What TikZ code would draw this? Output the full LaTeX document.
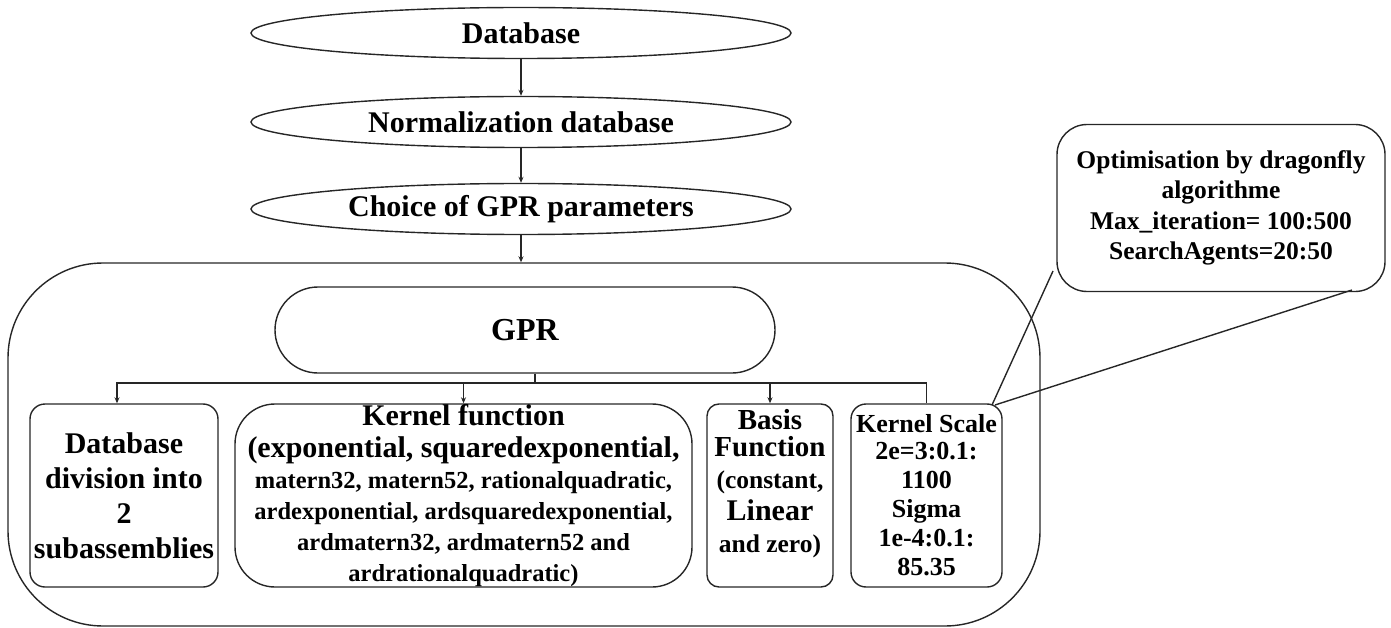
\documentclass[tikz,border=0pt]{standalone}
\usepackage{fontspec}
\setmainfont{Liberation Serif}
\usetikzlibrary{shapes.geometric,arrows.meta}
\begin{document}
\begin{tikzpicture}[x=1pt,y=-1pt,
  line/.style={line width=1.4pt,draw=black!85},
  arr/.style={line,-{Stealth[length=6pt,width=5pt]}},
  ell/.style={line,ellipse,minimum width=540pt,minimum height=51pt,inner sep=0pt,font=\bfseries\fontsize{30}{34}\selectfont},
  rbox/.style={line,rectangle,inner sep=0pt,align=center},
]
\useasboundingbox (0,0) rectangle (1391,628);
% ellipses
\node[ell] (db) at (521,33) {Database};
\node[ell] (norm) at (521,122) {Normalization database};
\node[ell] (choice) at (521,209) {Choice of GPR parameters};
% big container
\node[rbox,rounded corners=95pt,minimum width=1032pt,minimum height=363pt] (big) at (524,444.5) {};
% GPR
\node[rbox,rounded corners=43pt,minimum width=500pt,minimum height=86pt,font=\bfseries\fontsize{32}{36}\selectfont] (gpr) at (525,330) {GPR};
% child boxes
\node[rbox,rounded corners=15pt,minimum width=188pt,minimum height=183pt,font=\bfseries\fontsize{30}{35}\selectfont] (div) at (124,495.5) {Database\\division into\\2\\subassemblies};
\node[rbox,rounded corners=40pt,minimum width=457pt,minimum height=183pt,font=\bfseries\fontsize{24.5}{31}\selectfont] (kern) at (463.5,495.5)
 {{\fontsize{30}{30}\selectfont Kernel function}\\[1pt]
  {\fontsize{30}{30}\selectfont (exponential, squaredexponential,}\\
  matern32, matern52, rationalquadratic,\\
  ardexponential, ardsquaredexponential,\\
  ardmatern32, ardmatern52 and\\
  ardrationalquadratic)};
\node[rbox,rounded corners=12pt,minimum width=126pt,minimum height=183pt,
  label={[yshift=12pt,align=center,font=\bfseries\fontsize{25.5}{32}\selectfont]center:{{\fontsize{29}{30}\selectfont Basis}\\[-5pt]
  {\fontsize{29}{30}\selectfont Function}\\
  (constant,\\
  {\fontsize{30}{30}\selectfont Linear}\\
  and zero)}}] (basis) at (770,495.5) {};
\node[rbox,rounded corners=15pt,minimum width=151pt,minimum height=183pt,font=\bfseries\fontsize{26}{29}\selectfont] (ks) at (926.5,495.5)
 {Kernel Scale\\[-2pt]2e=3:0.1:\\1100\\Sigma\\1e-4:0.1:\\85.35};
% callout
\node[rbox,rounded corners=30pt,minimum width=328pt,minimum height=167pt,font=\bfseries\fontsize{25.5}{30.5}\selectfont] (opt) at (1221,208)
 {Optimisation by dragonfly\\algorithme\\Max\_iteration= 100:500\\SearchAgents=20:50};
\coordinate (tipA) at (992,405);
\coordinate (tipB) at (995,405);
\coordinate (calA) at (1053,271);
\coordinate (calB) at (1352,290);
\draw[line] (calA) -- (tipA);
\draw[line] (tipB) -- (calB);
% arrows
\draw[arr] (db.south) -- (norm.north);
\draw[arr] (norm.south) -- (choice.north);
\draw[arr] (choice.south) -- (choice.south |- big.north);
% branches
\coordinate (bj) at (535,383);
\draw[line] (gpr.south -| bj) -- (bj);
\draw[arr] (bj) -| (div.north -| 117,0);
\draw[arr] (bj) -| (kern.north);
\draw[arr] (bj) -| (basis.north);
\draw[line] (bj) -| (ks.north);
\end{tikzpicture}
\end{document}
